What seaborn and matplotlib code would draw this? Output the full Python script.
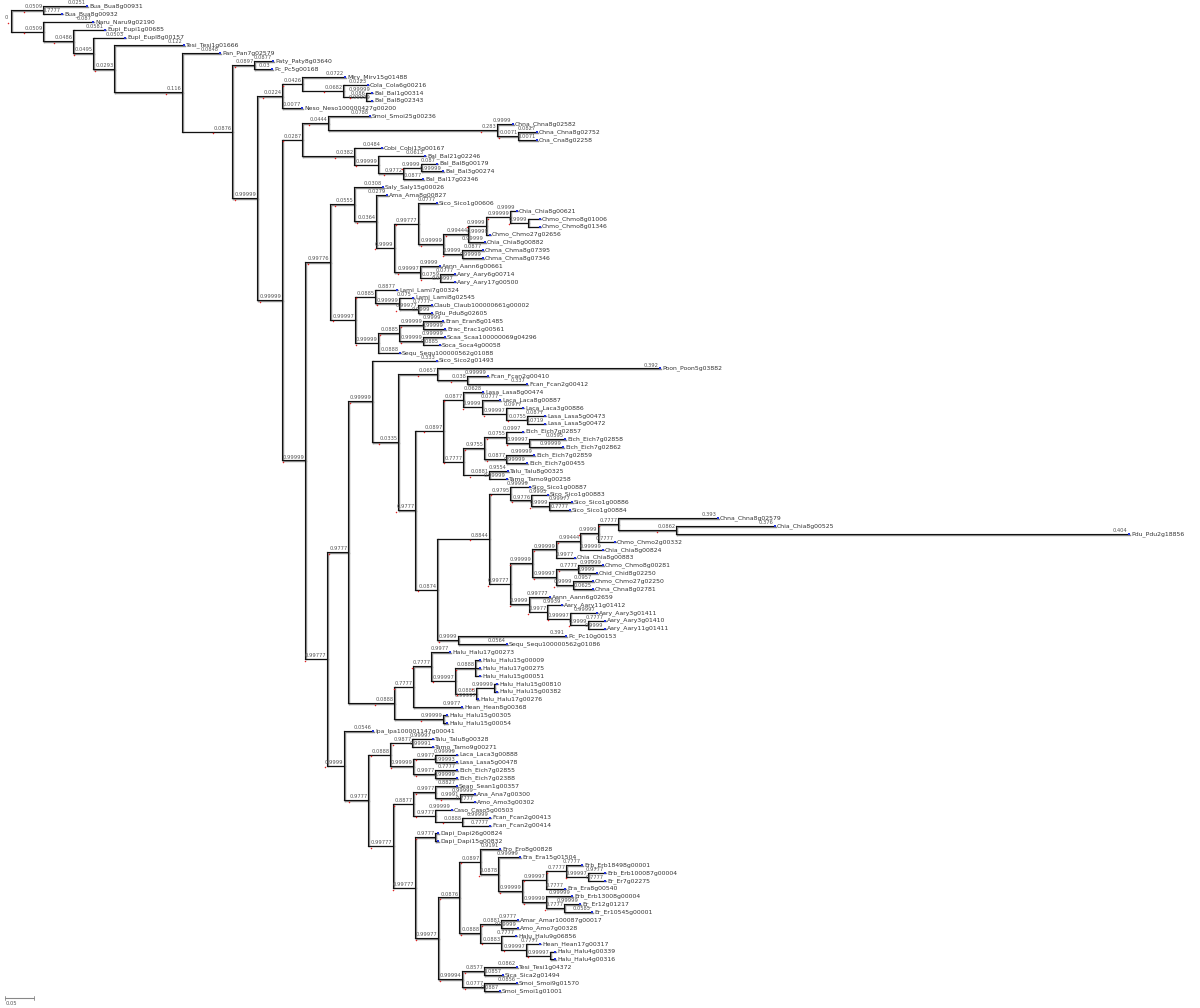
import matplotlib
matplotlib.use("Agg")
import matplotlib.pyplot as plt
from matplotlib.collections import LineCollection
import seaborn as sns
import pandas as pd

# ---------------- data: tree fragments (Newick), leaf "name|value:branch_length" ----------------
N1 = "(Bua_Bua8g00931|0.0251:0.0759,Bua_Bua8g00932|0.7777:0.0328)0.0509:0.0552"
N8 = "(Paty_Paty8g03640|0.0877:0.0328,Pc_Pc5g00168|0.03:0.0310)0.0897:0.0379"
N10 = ("((Mirv_Mirv15g01488|0.0722:0.0741,(Cola_Cola6g00216|0.0223:0.0431,(Bal_Bal1g00314|0.99999:0.0103,"
       "Bal_Bal8g02343|0.99999:0.0103)0.086:0.0397)0.0682:0.0707)0.0426:0.0345,"
       "Neso_Neso100000427g00200|0.0077:0.0345)0.0224:0.0431")
N16 = ("(Smoi_Smoi25g00236|0.0788:0.0724,(Chna_Chna8g02582|0.9999:0.0276,(Chna_Chna8g02752|0.0827:0.0328,"
       "Cna_Cna8g02258|0.0071:0.0328)0.0071:0.0362)0.283:0.2914)0.0444:0.0448")
N19 = ("(Cobi_Cobi13g00167|0.0484:0.0483,(Bal_Bal21g02246|0.0613:0.0810,((Bal_Bal8g00179|0.087:0.0276,"
       "Bal_Bal3g00274|0.99999:0.0379)0.9999:0.0310,Bal_Bal17g02346|0.0877:0.0345)0.9772:0.0431)0.99999:0.0414)0.0382:0.0897")
N32 = "(Chia_Chia8g00621|0.9999:0.0121,(Chmo_Chmo8g01006:0.0207,Chmo_Chmo8g01346:0.0207)0.9999:0.0310)0.99999:0.0414"
N31 = f"({N32},Chmo_Chmo27g02656|0.99999:0.0069)0.9999:0.0310"
N30 = f"({N31},Chia_Chia8g00882|0.99999:0.0293)0.99444:0.0431"
N29 = f"({N30},(Chma_Chma8g07395|0.0877:0.0362,Chma_Chma8g07346|0.99999:0.0362)0.9999:0.0328)0.99999:0.0431"
N28 = f"(Sico_Sico1g00606|0.0777:0.0328,{N29})0.99777:0.0414"
N35 = ("(Aann_Aann6g00661|0.9999:0.0345,(Aary_Aary6g00714|0.0777:0.0259,"
       "Aary_Aary17g00500|0.99997:0.0259)0.0759:0.0345)0.99997:0.0448")
N27 = f"({N28},{N35})0.9999:0.0310"
N26 = f"(Ama_Ama8g00827|0.0279:0.0190,{N27})0.0364:0.0379"
N25 = f"(Saly_Saly15g00026|0.0308:0.0500,{N26})0.0555:0.0414"
N37 = ("((Lami_Lami7g00324|0.8877:0.0379,(Lami_Lami8g02545|0.075:0.0241,(Claub_Claub100000661g00002|0.7777:0.0241,"
       "Pdu_Pdu8g02605|0.9999:0.0241)0.99977:0.0328)0.99999:0.0414)0.0885:0.0345,"
       "(((Eran_Eran8g01485|0.9999:0.0345,Erac_Erac1g00561|0.99999:0.0379)0.99999:0.0414,"
       "(Scaa_Scaa100000069g04296|0.99999:0.0379,Soca_Soca4g00058|0.0885:0.0293)0.99999:0.0414)0.0885:0.0362,"
       "Sequ_Sequ100000562g01088|0.0888:0.0379)0.99999:0.0397)0.99997:0.0431")
N24 = f"({N25},{N37})0.99776:0.0431"
N49 = ("(Poon_Poon5g03882|0.392:0.3845,(Fcan_Fcan2g00410|0.99999:0.0362,"
       "Fcan_Fcan2g00412|0.337:0.1034)0.038:0.0517)0.0657:0.0672")
N53 = ("(Lasa_Lasa8g00474|0.0628:0.0345,(Laca_Laca8g00887|0.0777:0.0310,(Laca_Laca3g00886|0.0977:0.0293,"
       "(Lasa_Lasa5g00473|0.0877:0.0310,Lasa_Lasa5g00472|0.0719:0.0310)0.0755:0.0362)0.99997:0.0414)0.9999:0.0328)0.0877:0.0345")
N57 = ("(((Eich_Eich7g02857|0.0997:0.0293,(Eich_Eich7g02858|0.0595:0.0621,Eich_Eich7g02862|0.99999:0.0586)0.99997:0.0397)0.0755:0.0379,"
       "(Eich_Eich7g02859|0.99999:0.0483,Eich_Eich7g00455|0.99999:0.0362)0.0877:0.0379)0.9755:0.0362,"
       "(Talu_Talu8g00325|0.9554:0.0328,Tamo_Tamo9g00258|0.99999:0.0310)0.0881:0.0448)0.7777:0.0345")
N52 = f"({N53},{N57})0.0897:0.0483"
N65 = ("(Sico_Sico1g00887|0.99999:0.0345,(Sico_Sico1g00883|0.9995:0.0293,(Sico_Sico1g00886|0.99977:0.0397,"
       "Sico_Sico1g00884|0.7777:0.0362)0.9999:0.0310)0.9776:0.0362)0.9795:0.0362")
NCd = ("(Chna_Chna8g02579|0.393:0.1724,(Chia_Chia8g00525|0.376:0.1707,"
       "Pdu_Pdu2g18856|0.404:0.7810)0.0862:0.1000)0.7777:0.0345")
NCc = f"({NCd},Chmo_Chmo2g00332|0.7777:0.0293)0.9999:0.0310"
NCb = f"({NCc},Chia_Chia8g00824|0.99999:0.0397)0.99444:0.0414"
NCa = f"({NCb},Chia_Chia8g00883|0.9977:0.0328)0.99999:0.0414"
NCf = ("((Chmo_Chmo8g00281|0.99999:0.0431,Chid_Chid8g02250|0.9999:0.0328)0.7777:0.0379,"
       "(Chmo_Chmo27g02250|0.0957:0.0345,Chna_Chna8g02781|0.0625:0.0345)0.9999:0.0293)0.99997:0.0414")
NC = f"({NCa},{NCf})0.99999:0.0379"
N69 = ("(Aann_Aann6g02659|0.99777:0.0362,(Aary_Aary11g01412|0.9939:0.0259,(Aary_Aary3g01411|0.99997:0.0466,"
       "(Aary_Aary3g01410|0.7777:0.0293,Aary_Aary11g01411|0.9999:0.0293)0.9999:0.0310)0.99997:0.0397)0.9977:0.0310)0.9999:0.0328")
N68 = f"({NC},{N69})0.99777:0.0362"
N64 = f"({N65},{N68})0.8844:0.0897"
N73 = "(Pc_Pc10g00153|0.391:0.1862,Sequ_Sequ100000562g01086|0.0564:0.0845)0.9999:0.0362"
N63 = f"({N64},{N73})0.0874:0.0379"
N51 = f"({N52},{N63})0.9777:0.0293"
N48 = f"({N49},{N51})0.0335:0.0448"
N47 = f"(Sico_Sico2g01493|0.333:0.1121,{N48})0.99999:0.0414"
N74 = ("(((Halu_Halu17g00273|0.9977:0.0328,((Halu_Halu15g00009:0.0086,Halu_Halu17g00275:0.0086,"
       "Halu_Halu15g00051:0.0086)0.0888:0.0345,((Halu_Halu15g00810:0.0052,Halu_Halu15g00382:0.0052)0.99999:0.0310,"
       "Halu_Halu17g00276|0.99997:0.0034)0.0888:0.0362)0.99997:0.0414)0.7777:0.0310,"
       "Hean_Hean8g00368|0.9977:0.0845)0.7777:0.0328,"
       "(Halu_Halu15g00305:0.0069,Halu_Halu15g00054:0.0069)0.99999:0.0845)0.0888:0.0793")
N46 = f"({N47},{N74})0.9777:0.0362"
N84 = ("((Talu_Talu8g00328|0.99997:0.0362,Tamo_Tamo9g00271|0.99991:0.0362)0.9877:0.0379,"
       "((Laca_Laca3g00888|0.99999:0.0379,Lasa_Lasa5g00478|0.99993:0.0379)0.9977:0.0379,"
       "(Eich_Eich7g02855|0.7777:0.0379,Eich_Eich7g02388|0.99999:0.0379)0.9977:0.0379)0.99999:0.0397)0.0888:0.0379")
N90 = ("((Sean_Sean1g00357|0.8827:0.0379,(Ana_Ana7g00300|0.99999:0.0259,Amo_Amo3g00302|0.7777:0.0259)0.9991:0.0431)0.9977:0.0379,"
       "(Caso_Caso5g00503|0.99999:0.0293,(Fcan_Fcan2g00413|0.99999:0.0483,"
       "Fcan_Fcan2g00414|0.7777:0.0483)0.0888:0.0466)0.9777:0.0379)0.8877:0.0345")
N101 = ("(((Erb_Erb18498g00001|0.7777:0.0276,(Erb_Erb100087g00004|0.9777:0.0293,Er_Er7g02275|0.7777:0.0293)0.99997:0.0379)0.7777:0.0345,"
        "Era_Era8g00540|0.7777:0.0328)0.99997:0.0414,(Erb_Erb13008g00004|0.99999:0.0448,(Er_Er12g01217|0.99999:0.0276,"
        "Er_Er10545g00001|0.0585:0.0483)0.7777:0.0310)0.99999:0.0414)0.99999:0.0414")
N99 = f"(Ero_Ero8g00828|0.9191:0.0345,(Era_Era15g01504|0.99999:0.0379,{N101})0.0878:0.0310)0.0897:0.0362"
N107 = ("((Amar_Amar100087g00017|0.9777:0.0293,Amo_Amo7g00328|0.99999:0.0293)0.0881:0.0362,"
        "(Halu_Halu9g06856|0.7777:0.0259,(Hean_Hean17g00317|0.7777:0.0241,(Halu_Halu4g00339:0.0086,"
        "Halu_Halu4g00316:0.0086)0.99997:0.0414)0.99997:0.0431)0.0883:0.0362)0.0888:0.0362")
N98 = f"({N99},{N107})0.0876:0.0362"
N112 = ("((Tesi_Tesi1g04372|0.0862:0.0569,Sica_Sica2g01494|0.0857:0.0328)0.8577:0.0379,"
        "(Smoi_Smoi9g01570|0.0856:0.0569,Smoi_Smoi1g01001|0.0887:0.0276)0.0777:0.0379)0.99994:0.0414")
N97 = f"({N98},{N112})0.99977:0.0397"
N95 = f"((Dapi_Dapi26g00824:0.0052,Dapi_Dapi15g00832:0.0052)0.9777:0.0345,{N97})0.99777:0.0379"
N89 = f"({N90},{N95})0.99777:0.0431"
N83 = f"({N84},{N89})0.9777:0.0414"
N82 = f"(Ipa_Ipa100001147g00041|0.0546:0.0500,{N83})0.9999:0.0293"
N45 = f"({N46},{N82})0.99777:0.0379"
N23 = f"({N24},{N45})0.99999:0.0397"
N15 = f"({N16},{N19})0.0287:0.0345"
N14 = f"({N15},{N23})0.99999:0.0431"
N9 = f"({N10},{N14})0.99999:0.0431"
N7 = f"({N8},{N9})0.0876:0.0862"
N6 = f"(Pan_Pan7g02579|0.0848:0.0655,{N7})0.116:0.1172"
N5 = f"(Tesi_Tesi1g01666|0.122:0.1207,{N6})0.0293:0.0362"
N4 = f"(Eupl_Eupl8g00157|0.0503:0.0552,{N5})0.0495:0.0345"
N3 = f"(Eupi_Eupi1g00685|0.0581:0.0552,{N4})0.0486:0.0517"
N2 = f"(Naru_Naru9g02190|0.087:0.0862,{N3})0.0509:0.0552"
TREE = f"({N1},{N2})0;"

SCALE_BAR = 0.05


# ---------------- parse + layout ----------------
def parse_newick(text):
    s = "".join(text.split()).rstrip(";")
    pos = 0

    def node():
        nonlocal pos
        n = {"children": [], "name": "", "val": "", "len": 0.0}
        if s[pos] == "(":
            pos += 1
            while True:
                n["children"].append(node())
                if s[pos] == ",":
                    pos += 1
                    continue
                if s[pos] == ")":
                    pos += 1
                    break
        start = pos
        while pos < len(s) and s[pos] not in ":,)":
            pos += 1
        tok = s[start:pos]
        if n["children"]:
            n["val"] = tok
        elif "|" in tok:
            n["name"], n["val"] = tok.split("|")
        else:
            n["name"] = tok
        if pos < len(s) and s[pos] == ":":
            pos += 1
            start = pos
            while pos < len(s) and s[pos] not in ",)":
                pos += 1
            n["len"] = float(s[start:pos])
        return n

    return node()


root = parse_newick(TREE)
counter = [0]


def layout(n, x0, parent=None):
    n["x"] = x0 + n["len"]
    n["parent"] = parent
    if n["children"]:
        for c in n["children"]:
            layout(c, n["x"], n)
        n["y"] = (n["children"][0]["y"] + n["children"][-1]["y"]) / 2.0
    else:
        n["y"] = counter[0]
        counter[0] += 1


layout(root, 0.0)

nodes = []


def collect(n):
    nodes.append(n)
    for c in n["children"]:
        collect(c)


collect(root)
n_leaves = counter[0]

# ---------------- figure ----------------
sns.set_theme(style="white")
plt.rcParams["font.family"] = ["DejaVu Sans"]

W, H = 1200, 1008
PX = 1.0 / 580.0          # tree units per pixel (0.05 scale bar = 29 px)
LEAF_PX = 7.88            # pixel spacing between leaves
fig = plt.figure(figsize=(W / 100, H / 100), dpi=100)
ax = fig.add_axes([0, 0, 1, 1])
ax.set_xlim(-11 * PX, (W - 11) * PX)
ax.set_ylim((H - 6) / LEAF_PX, -6 / LEAF_PX)
ax.axis("off")

segs = []
for n in nodes:
    if n["children"]:
        segs.append([(n["x"], n["children"][0]["y"]), (n["x"], n["children"][-1]["y"])])
    if n["parent"] is not None:
        segs.append([(n["parent"]["x"], n["y"]), (n["x"], n["y"])])

dy = 0.6 / LEAF_PX
shadow = [[(a[0] + 0.6 * PX, a[1] + dy), (b[0] + 0.6 * PX, b[1] + dy)] for a, b in segs]
ax.add_collection(LineCollection(shadow, colors="#8c8c8c", linewidths=1.0, capstyle="projecting"))
ax.add_collection(LineCollection(segs, colors="#111111", linewidths=0.8, capstyle="projecting"))

leaf_rows = [n for n in nodes if not n["children"]]
inner_rows = [n for n in nodes if n["children"] and n["parent"] is not None]

tips = pd.DataFrame({"x": [n["x"] for n in leaf_rows], "y": [n["y"] for n in leaf_rows]})
sns.scatterplot(data=tips, x="x", y="y", ax=ax, color="#2233dd", marker="s", s=2.5,
                linewidth=0, legend=False, zorder=3)

for n in leaf_rows:
    ax.text(n["x"] + 2.0 * PX, n["y"], n["name"], fontsize=4.4, color="#333333",
            ha="left", va="center")
    if n["val"]:
        ax.text(n["x"] - 1.5 * PX, n["y"] - 0.12, n["val"], fontsize=3.7, color="#555555",
                ha="right", va="bottom")

red_x, red_y = [], []
for n in inner_rows:
    if n["val"]:
        ax.text(n["x"] - 0.5 * PX, n["y"] - 0.12, n["val"], fontsize=3.7, color="#555555",
                ha="right", va="bottom")
        red_x.append(n["x"] - (3.1 * len(n["val"]) + 0.5) * PX)
        red_y.append(n["y"] + 0.22)

# root label
ax.text(root["x"] - 3 * PX, root["y"] - 0.12, root["val"], fontsize=3.7, color="#555555",
        ha="right", va="bottom")
red_x.append(root["x"] - 3 * PX)
red_y.append(root["y"] + 0.22)

reds = pd.DataFrame({"x": red_x, "y": red_y})
sns.scatterplot(data=reds, x="x", y="y", ax=ax, color="#dd2222", marker="o", s=1.2,
                linewidth=0, legend=False, zorder=3)

# scale bar
sb_x0 = -6 * PX
sb_y = (998 - 6) / LEAF_PX
ax.plot([sb_x0, sb_x0 + SCALE_BAR], [sb_y, sb_y], color="#888888", lw=0.8)
for xx in (sb_x0, sb_x0 + SCALE_BAR):
    ax.plot([xx, xx], [sb_y - 0.2, sb_y + 0.2], color="#888888", lw=0.6)
ax.text(sb_x0 + 0.5 * PX, sb_y + 0.35, f"{SCALE_BAR:.2f}", fontsize=3.7, color="#555555",
        ha="left", va="top")

fig.savefig("out.png", dpi=100)
print("leaves:", n_leaves)
